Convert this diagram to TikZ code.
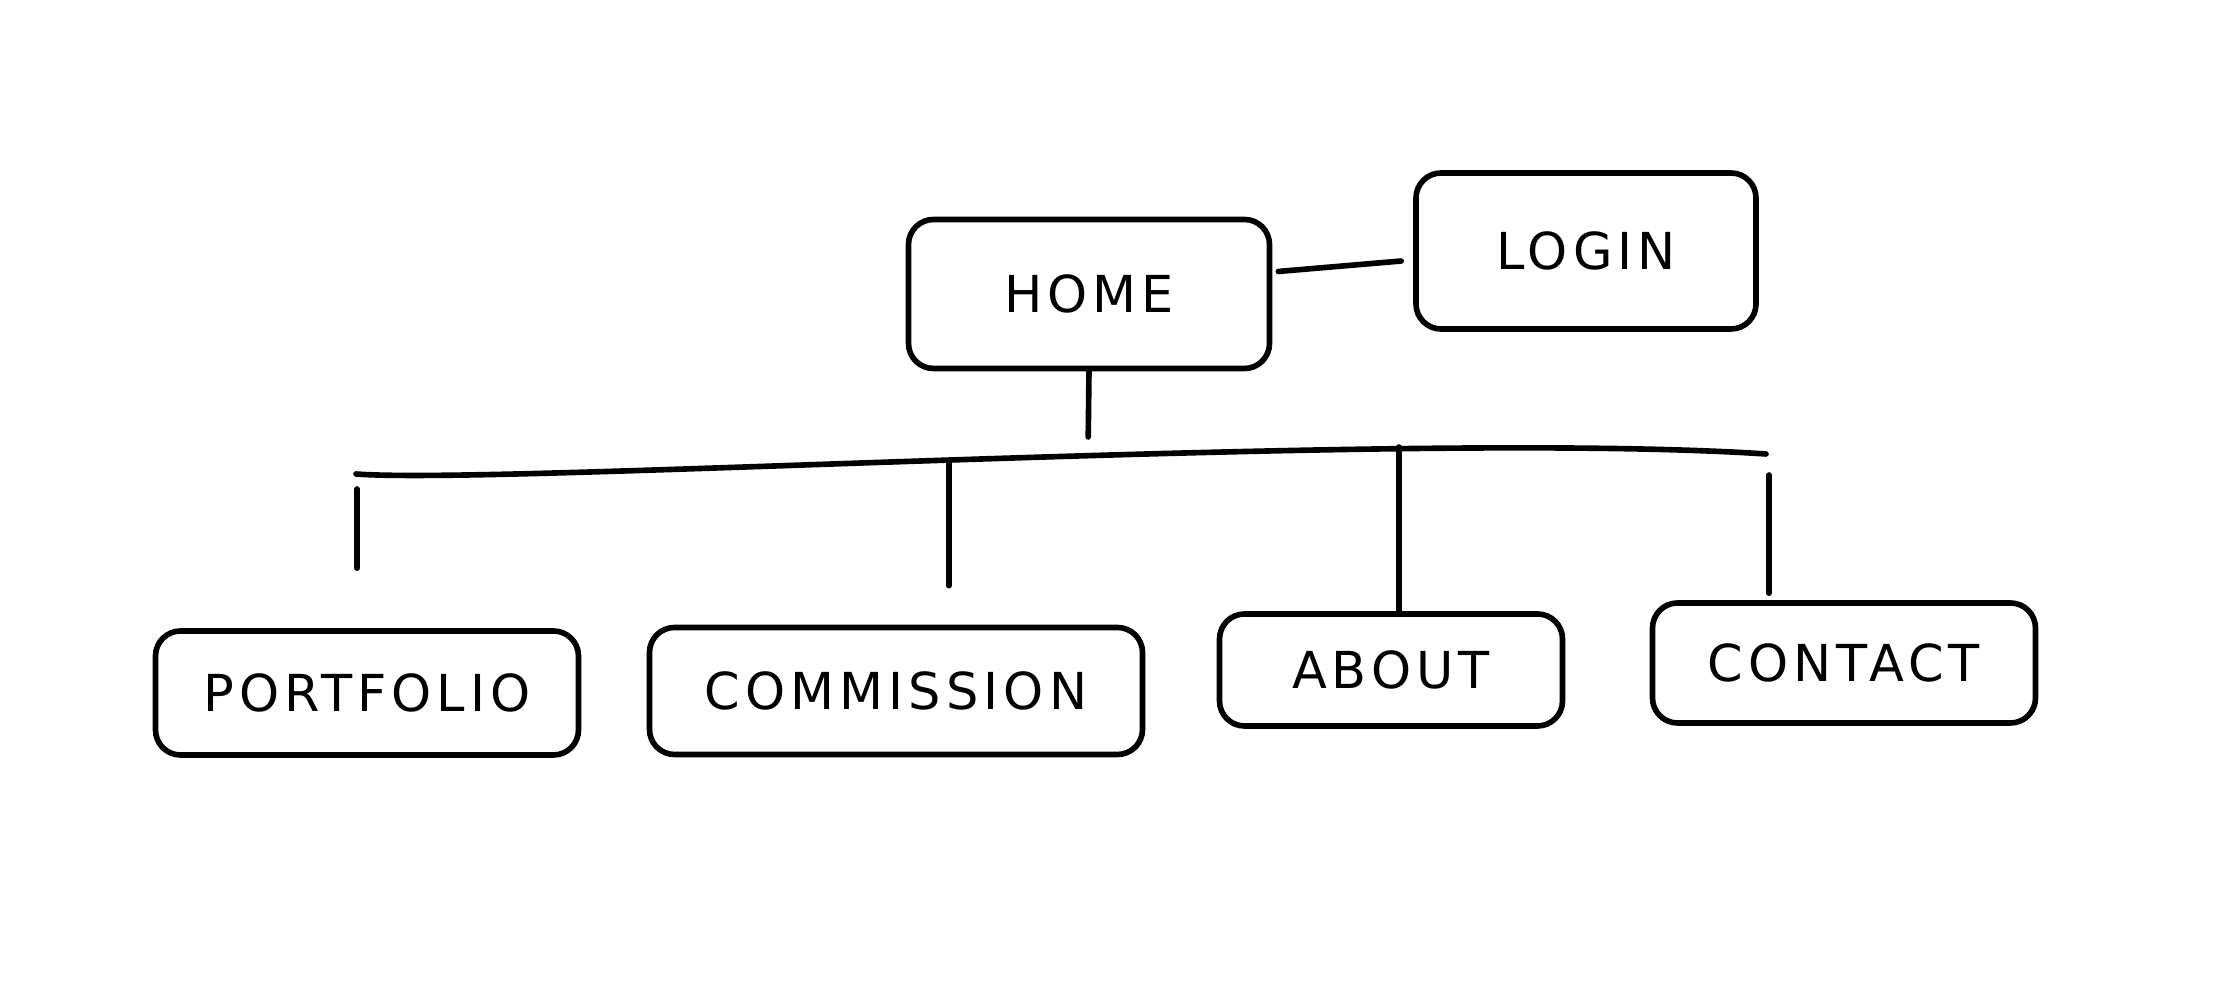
\documentclass[tikz,border=0pt]{standalone}
\usepackage{fontspec}
\newfontfamily\handfont[LetterSpace=10]{DejaVu Sans}
\usetikzlibrary{calc}

\begin{document}
\begin{tikzpicture}[
    page/.style={
        draw,
        rounded corners=2.5mm,
        line width=1.6pt,
        inner sep=0pt,
        font=\handfont\fontsize{14.5}{18}\selectfont
    },
    link/.style={line width=1.6pt, line cap=round}
]
\useasboundingbox (0,0) rectangle (22.24,-10.03);

% Top level
\node[page, minimum width=3.61cm, minimum height=1.49cm] (home) at (10.89,-2.94) {HOME};
\node[page, minimum width=3.40cm, minimum height=1.56cm] (login) at (15.86,-2.51) {LOGIN};

% Sections
\node[page, minimum width=4.23cm, minimum height=1.24cm] (portfolio) at (3.67,-6.93) {PORTFOLIO};
\node[page, minimum width=4.93cm, minimum height=1.27cm] (commission) at (8.96,-6.91) {COMMISSION};
\node[page, minimum width=3.43cm, minimum height=1.12cm] (about) at (13.91,-6.70) {ABOUT};
\node[page, minimum width=3.83cm, minimum height=1.20cm] (contact) at (18.44,-6.63) {CONTACT};

% Bus
\coordinate (busL) at (3.56,-4.74);
\coordinate (busR) at (17.66,-4.54);
\coordinate (hub) at (10.88,-4.57);
\draw[link] (busL) .. controls (5,-4.85) and (14,-4.3) .. (busR);

% Links
\draw[link, shorten <=0.06cm, shorten >=0.12cm]
    ([yshift=2.2mm]home.east) -- ([yshift=-0.9mm]login.west);
\draw[link, shorten >=0.2cm] (home.south) -- (hub);

\coordinate (dropP) at (3.57,-4.89);
\coordinate (dropC) at (9.49,-4.61);
\coordinate (dropA) at (13.99,-4.47);
\coordinate (dropT) at (17.69,-4.75);
\draw[link, shorten >=0.6cm] (dropP) -- (dropP |- portfolio.north);
\draw[link, shorten >=0.39cm] (dropC) -- (dropC |- commission.north);
\draw[link] (dropA) -- (dropA |- about.north);
\draw[link, shorten >=0.07cm] (dropT) -- (dropT |- contact.north);

\end{tikzpicture}
\end{document}
